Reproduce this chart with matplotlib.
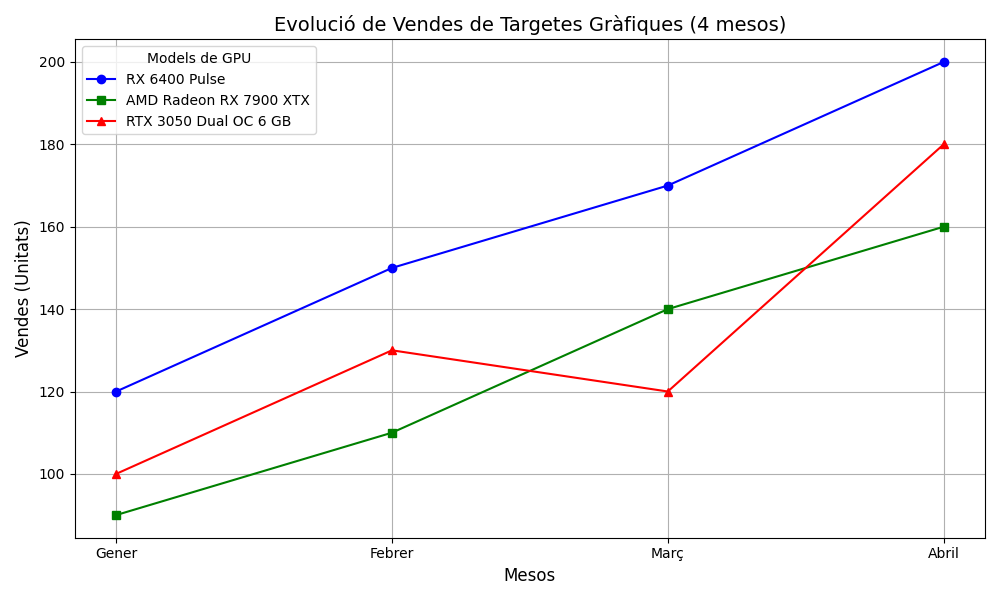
import matplotlib
matplotlib.use("Agg")
import matplotlib.pyplot as plt

mesos = ["Gener", "Febrer", "Març", "Abril"]
rx6400 = [120, 150, 170, 200]
rx7900 = [90, 110, 140, 160]
rtx3050 = [100, 130, 120, 180]

fig, ax = plt.subplots(figsize=(10, 6), dpi=100)
ax.plot(mesos, rx6400, marker="o", color="blue", label="RX 6400 Pulse")
ax.plot(mesos, rx7900, marker="s", color="green", label="AMD Radeon RX 7900 XTX")
ax.plot(mesos, rtx3050, marker="^", color="red", label="RTX 3050 Dual OC 6 GB")
ax.set_title("Evolució de Vendes de Targetes Gràfiques (4 mesos)", fontsize=14)
ax.set_xlabel("Mesos", fontsize=12)
ax.set_ylabel("Vendes (Unitats)", fontsize=12)
ax.legend(title="Models de GPU", loc="upper left")
ax.grid(True)
fig.tight_layout()
fig.savefig("out.png")
